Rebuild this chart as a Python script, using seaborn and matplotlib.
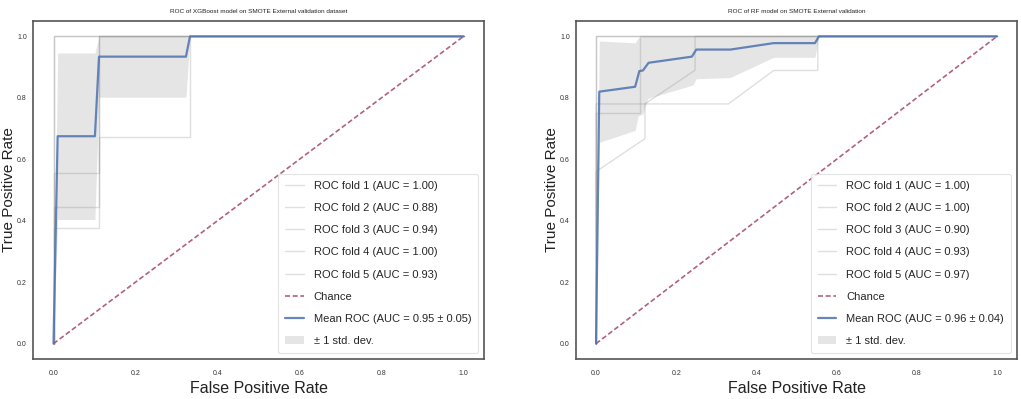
import numpy as np
import pandas as pd
import matplotlib
matplotlib.use("Agg")
import matplotlib.pyplot as plt
import seaborn as sns

# ---------------- data ----------------
titles = ["ROC of XGBoost model on SMOTE External validation dataset",
          "ROC of RF model on SMOTE External validation"]

# XGBoost folds (fpr, tpr)
xgb_fold1_fpr = [0, 0, 1];                          xgb_fold1_tpr = [0, 1, 1]
xgb_fold2_fpr = [0, 0, 0.112, 0.112, 0.334, 0.334, 1]; xgb_fold2_tpr = [0, 0.554, 0.554, 0.671, 0.671, 1, 1]
xgb_fold3_fpr = [0, 0, 0.112, 0.112, 1];            xgb_fold3_tpr = [0, 0.446, 0.446, 1, 1]
xgb_fold4_fpr = [0, 0, 1];                          xgb_fold4_tpr = [0, 1, 1]
xgb_fold5_fpr = [0, 0, 0.112, 0.112, 1];            xgb_fold5_tpr = [0, 0.375, 0.375, 1, 1]
xgb_fold_auc = [1.00, 0.88, 0.94, 1.00, 0.93]
xgb_mean_fpr = [0, 0.0101, 0.101, 0.111, 0.323, 0.333, 1]
xgb_mean_tpr = [0, 0.675, 0.675, 0.934, 0.934, 1, 1]
xgb_upper = [0, 0.946, 0.946, 1, 1, 1, 1]
xgb_lower = [0, 0.404, 0.404, 0.802, 0.802, 1, 1]
xgb_mean_auc = "0.95 \u00b1 0.05"

# RF folds
rf_fold1_fpr = [0, 0, 1];                           rf_fold1_tpr = [0, 1, 1]
rf_fold2_fpr = [0, 0, 1];                           rf_fold2_tpr = [0, 1, 1]
rf_fold3_fpr = [0, 0, 0.33, 0.443, 0.553, 0.553, 1]; rf_fold3_tpr = [0, 0.78, 0.78, 0.889, 0.889, 1, 1]
rf_fold4_fpr = [0, 0, 0.122, 0.122, 0.247, 0.247, 1]; rf_fold4_tpr = [0, 0.56, 0.667, 0.78, 0.89, 1, 1]
rf_fold5_fpr = [0, 0, 0.11, 0.11, 1];               rf_fold5_tpr = [0, 0.75, 0.75, 1, 1]
rf_fold_auc = [1.00, 1.00, 0.90, 0.93, 0.97]
rf_mean_fpr = [0, 0.008, 0.0975, 0.108, 0.117, 0.131, 0.239, 0.25, 0.335, 0.443, 0.546, 0.556, 1]
rf_mean_tpr = [0, 0.82, 0.836, 0.887, 0.889, 0.914, 0.934, 0.957, 0.957, 0.978, 0.978, 1, 1]
rf_band_fpr = [0, 0.008, 0.0975, 0.105, 0.117, 0.129, 0.242, 0.25, 0.335, 0.443, 0.546, 0.556, 1]
rf_upper = [0, 0.985, 0.979, 0.995, 1, 1, 1, 1, 1, 1, 1, 1, 1]
rf_lower = [0, 0.655, 0.694, 0.741, 0.748, 0.798, 0.842, 0.862, 0.866, 0.932, 0.932, 1, 1]
rf_mean_auc = "0.96 \u00b1 0.04"

ticks = [0.0, 0.2, 0.4, 0.6, 0.8, 1.0]

# ---------------- style ----------------
sns.set_style("white")
FONT = ["Liberation Sans", "DejaVu Sans"]
plt.rcParams["font.family"] = FONT

fig = plt.figure(figsize=(10.21, 3.99), dpi=100)
ax1 = fig.add_axes([33 / 1021, 40 / 399, 451 / 1021, 338 / 399])
ax2 = fig.add_axes([576 / 1021, 40 / 399, 441 / 1021, 338 / 399])

panels = [
    (ax1, titles[0],
     [(xgb_fold1_fpr, xgb_fold1_tpr), (xgb_fold2_fpr, xgb_fold2_tpr), (xgb_fold3_fpr, xgb_fold3_tpr),
      (xgb_fold4_fpr, xgb_fold4_tpr), (xgb_fold5_fpr, xgb_fold5_tpr)],
     xgb_fold_auc, xgb_mean_fpr, xgb_mean_tpr, xgb_mean_fpr, xgb_upper, xgb_lower, xgb_mean_auc, -0.0377),
    (ax2, titles[1],
     [(rf_fold1_fpr, rf_fold1_tpr), (rf_fold2_fpr, rf_fold2_tpr), (rf_fold3_fpr, rf_fold3_tpr),
      (rf_fold4_fpr, rf_fold4_tpr), (rf_fold5_fpr, rf_fold5_tpr)],
     rf_fold_auc, rf_mean_fpr, rf_mean_tpr, rf_band_fpr, rf_upper, rf_lower, rf_mean_auc, -0.0385),
]

for ax, title, folds, aucs, mfpr, mtpr, bfpr, up, lo, mauc, ylx in panels:
    for i, ((f, t), a) in enumerate(zip(folds, aucs)):
        df = pd.DataFrame({"fpr": f, "tpr": t})
        sns.lineplot(data=df, x="fpr", y="tpr", ax=ax, sort=False, estimator=None,
                     color="grey", alpha=0.25, lw=1, label=f"ROC fold {i+1} (AUC = {a:.2f})")
    sns.lineplot(x=[0, 1], y=[0, 1], ax=ax, sort=False, estimator=None,
                 color="#a2466a", alpha=0.85, lw=1.2, dashes=(3, 1.6), label="Chance")
    sns.lineplot(x=mfpr, y=mtpr, ax=ax, sort=False, estimator=None,
                 color="#4C72B0", alpha=0.85, lw=1.6, label=f"Mean ROC (AUC = {mauc})")
    ax.fill_between(bfpr, lo, up, color="grey", alpha=0.2, lw=0, label="\u00b1 1 std. dev.")

    ax.set_xlim(-0.05, 1.05)
    ax.set_ylim(-0.05, 1.05)
    ax.set_xticks(ticks)
    ax.set_yticks(ticks)
    ax.set_xticklabels([f"{v:.1f}" for v in ticks])
    ax.set_yticklabels([f"{v:.1f}" for v in ticks])
    ax.tick_params(axis="both", labelsize=5, length=0, labelcolor="#333333")
    ax.tick_params(axis="x", pad=8)
    ax.tick_params(axis="y", pad=4.5)
    ax.set_title(title, fontsize=4.6, pad=6, color="#222222")
    ax.set_xlabel("False Positive Rate", fontsize=11.5, labelpad=3, color="#222222")
    ax.set_ylabel("True Positive Rate", fontsize=11, color="#222222")
    ax.yaxis.set_label_coords(ylx, 0.5)
    for s in ax.spines.values():
        s.set_color("#555555")
        s.set_linewidth(1.2)
    leg = ax.legend(loc="lower right", fontsize=8, frameon=True, labelspacing=1.1,
                    borderaxespad=0.55, handlelength=1.7, handletextpad=0.9, borderpad=0.6)
    leg.get_frame().set_edgecolor("#dddddd")
    leg.get_frame().set_linewidth(0.8)

fig.savefig("out.png", dpi=100)
